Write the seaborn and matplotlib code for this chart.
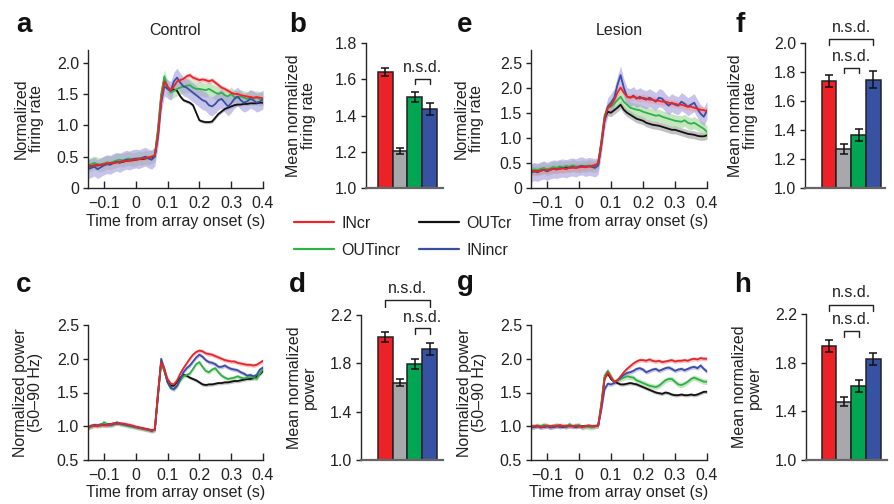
import numpy as np
import pandas as pd
import matplotlib
matplotlib.use("Agg")
import matplotlib.pyplot as plt
import seaborn as sns
from matplotlib.lines import Line2D

# ---------------- data ----------------
conditions = ["INcr", "OUTcr", "OUTincr", "INincr"]
time = np.round(np.linspace(-0.15, 0.40, 56), 2)

# panel a: control, firing rate
a_INcr = [0.34, 0.35, 0.36, 0.37, 0.37, 0.38, 0.39, 0.40, 0.40, 0.41, 0.42, 0.43, 0.43, 0.44, 0.45, 0.45, 0.46, 0.47, 0.48, 0.49, 0.50, 0.52,
          0.85, 1.40, 1.70, 1.62, 1.55, 1.62, 1.70, 1.72, 1.74, 1.78, 1.80, 1.76, 1.74, 1.72, 1.73, 1.72, 1.70, 1.72, 1.68, 1.64,
          1.60, 1.58, 1.55, 1.52, 1.50, 1.50, 1.48, 1.47, 1.46, 1.45, 1.44, 1.45, 1.44, 1.43]
a_OUTcr = [0.34, 0.35, 0.36, 0.36, 0.37, 0.38, 0.38, 0.39, 0.40, 0.41, 0.41, 0.42, 0.43, 0.44, 0.44, 0.45, 0.46, 0.46, 0.47, 0.48, 0.49, 0.51,
           0.90, 1.45, 1.74, 1.60, 1.56, 1.57, 1.55, 1.46, 1.40, 1.38, 1.36, 1.32, 1.20, 1.08, 1.06, 1.05, 1.05, 1.06, 1.12, 1.18,
           1.22, 1.26, 1.28, 1.30, 1.32, 1.33, 1.33, 1.34, 1.34, 1.35, 1.35, 1.35, 1.36, 1.36]
a_OUTincr = [0.36, 0.38, 0.40, 0.38, 0.37, 0.39, 0.41, 0.40, 0.42, 0.44, 0.45, 0.44, 0.46, 0.47, 0.45, 0.46, 0.48, 0.47, 0.49, 0.48, 0.50, 0.53,
             0.95, 1.50, 1.78, 1.60, 1.52, 1.55, 1.58, 1.60, 1.62, 1.63, 1.64, 1.60, 1.58, 1.58, 1.57, 1.56, 1.58, 1.55, 1.52, 1.50,
             1.52, 1.48, 1.46, 1.50, 1.45, 1.44, 1.46, 1.44, 1.42, 1.45, 1.43, 1.44, 1.42, 1.42]
a_INincr = [0.30, 0.32, 0.34, 0.30, 0.33, 0.36, 0.38, 0.37, 0.40, 0.42, 0.40, 0.43, 0.45, 0.44, 0.46, 0.47, 0.46, 0.48, 0.50, 0.47, 0.45, 0.50,
            0.80, 1.35, 1.62, 1.58, 1.55, 1.70, 1.76, 1.68, 1.62, 1.60, 1.56, 1.52, 1.48, 1.44, 1.40, 1.38, 1.32, 1.30, 1.34, 1.40,
            1.42, 1.36, 1.30, 1.35, 1.42, 1.46, 1.40, 1.36, 1.38, 1.42, 1.40, 1.36, 1.38, 1.41]
a_sem = [0.04, 0.025, 0.11, 0.15]

# panel e: lesion, firing rate
e_INcr = [0.33, 0.34, 0.33, 0.35, 0.36, 0.35, 0.37, 0.38, 0.37, 0.38, 0.39, 0.38, 0.40, 0.41, 0.40, 0.41, 0.42, 0.42, 0.43, 0.44, 0.45, 0.50,
          0.90, 1.40, 1.60, 1.65, 1.75, 1.90, 2.00, 1.90, 1.82, 1.80, 1.82, 1.80, 1.78, 1.80, 1.78, 1.76, 1.76, 1.74, 1.74, 1.72,
          1.72, 1.70, 1.68, 1.68, 1.66, 1.66, 1.64, 1.62, 1.62, 1.60, 1.58, 1.56, 1.55, 1.53]
e_OUTcr = [0.34, 0.35, 0.34, 0.36, 0.37, 0.36, 0.38, 0.38, 0.39, 0.39, 0.40, 0.40, 0.41, 0.41, 0.42, 0.42, 0.43, 0.43, 0.44, 0.44, 0.45, 0.48,
           0.90, 1.38, 1.52, 1.50, 1.55, 1.60, 1.66, 1.56, 1.50, 1.46, 1.42, 1.38, 1.36, 1.34, 1.30, 1.28, 1.26, 1.25, 1.24, 1.22,
           1.20, 1.18, 1.16, 1.16, 1.14, 1.12, 1.10, 1.08, 1.07, 1.06, 1.04, 1.03, 1.03, 1.05]
e_OUTincr = [0.35, 0.37, 0.36, 0.38, 0.40, 0.37, 0.39, 0.42, 0.40, 0.43, 0.41, 0.44, 0.42, 0.45, 0.43, 0.42, 0.44, 0.43, 0.45, 0.44, 0.43, 0.48,
             0.95, 1.45, 1.60, 1.62, 1.68, 1.75, 1.82, 1.72, 1.66, 1.60, 1.58, 1.56, 1.55, 1.52, 1.50, 1.48, 1.46, 1.44, 1.45, 1.42,
             1.40, 1.38, 1.36, 1.34, 1.33, 1.32, 1.35, 1.30, 1.28, 1.30, 1.26, 1.22, 1.18, 1.12]
e_INincr = [0.30, 0.33, 0.31, 0.34, 0.36, 0.33, 0.36, 0.38, 0.37, 0.39, 0.40, 0.38, 0.41, 0.42, 0.40, 0.43, 0.44, 0.41, 0.43, 0.42, 0.40, 0.45,
            0.85, 1.35, 1.62, 1.70, 1.80, 2.05, 2.25, 2.00, 1.82, 1.80, 1.84, 1.78, 1.82, 1.78, 1.76, 1.80, 1.76, 1.72, 1.80, 1.78,
            1.70, 1.64, 1.70, 1.66, 1.64, 1.72, 1.68, 1.62, 1.66, 1.70, 1.58, 1.48, 1.42, 1.55]
e_sem = [0.07, 0.08, 0.12, 0.18]

# panel c: control, gamma power
c_INcr = [0.98, 1.00, 1.01, 1.00, 1.02, 1.01, 1.02, 1.03, 1.04, 1.04, 1.04, 1.04, 1.03, 1.02, 1.01, 0.99, 0.98, 0.97, 0.96, 0.95, 0.94, 0.95,
          1.50, 1.95, 1.85, 1.70, 1.63, 1.62, 1.68, 1.78, 1.86, 1.93, 2.00, 2.06, 2.10, 2.12, 2.11, 2.08, 2.07, 2.06, 2.04, 2.02,
          2.00, 1.98, 1.97, 1.96, 1.96, 1.94, 1.93, 1.92, 1.91, 1.91, 1.90, 1.91, 1.94, 1.97]
c_OUTcr = [0.98, 1.00, 1.01, 1.01, 1.02, 1.02, 1.03, 1.03, 1.04, 1.04, 1.04, 1.03, 1.02, 1.01, 1.00, 0.99, 0.98, 0.97, 0.96, 0.95, 0.94, 0.95,
           1.48, 1.95, 1.82, 1.66, 1.60, 1.60, 1.66, 1.72, 1.76, 1.75, 1.72, 1.70, 1.68, 1.65, 1.62, 1.61, 1.62, 1.62, 1.63, 1.64,
           1.64, 1.65, 1.65, 1.66, 1.67, 1.67, 1.68, 1.69, 1.70, 1.70, 1.71, 1.73, 1.77, 1.82]
c_OUTincr = [0.97, 0.99, 1.01, 1.02, 1.00, 1.06, 1.03, 1.01, 1.02, 1.06, 1.03, 1.02, 1.01, 1.00, 0.99, 0.98, 0.97, 0.96, 0.95, 0.94, 0.93, 0.94,
             1.45, 1.95, 1.82, 1.65, 1.56, 1.55, 1.60, 1.68, 1.74, 1.76, 1.78, 1.85, 1.92, 1.95, 1.88, 1.82, 1.80, 1.84, 1.86, 1.80,
             1.75, 1.72, 1.70, 1.71, 1.72, 1.74, 1.72, 1.71, 1.72, 1.73, 1.72, 1.70, 1.78, 1.85]
c_INincr = [0.99, 1.01, 1.02, 1.01, 1.03, 1.02, 1.01, 1.02, 1.03, 1.05, 1.04, 1.03, 1.02, 1.01, 1.00, 0.99, 0.98, 0.97, 0.96, 0.95, 0.93, 0.95,
            1.45, 2.00, 1.85, 1.65, 1.57, 1.55, 1.60, 1.70, 1.80, 1.86, 1.90, 1.96, 2.02, 2.06, 2.03, 1.98, 1.95, 1.94, 1.92, 1.88,
            1.88, 1.90, 1.87, 1.85, 1.84, 1.83, 1.80, 1.78, 1.75, 1.76, 1.74, 1.76, 1.84, 1.87]
c_sem = [0.03, 0.025, 0.03, 0.03]

# panel g: lesion, gamma power
g_INcr = [1.00, 1.00, 1.01, 0.99, 1.00, 1.01, 1.00, 1.01, 1.00, 1.02, 1.00, 1.01, 1.00, 1.00, 1.01, 1.00, 0.99, 1.00, 1.01, 1.00, 1.00, 1.01,
          1.30, 1.70, 1.80, 1.72, 1.66, 1.68, 1.74, 1.80, 1.85, 1.89, 1.93, 1.96, 1.98, 1.98, 1.97, 1.99, 1.97, 1.96, 1.97, 1.95,
          1.96, 1.97, 1.98, 1.96, 1.97, 1.97, 1.98, 1.97, 1.99, 2.00, 1.99, 2.01, 2.00, 2.00]
g_OUTcr = [1.00, 0.99, 1.00, 1.00, 0.99, 1.00, 1.00, 0.99, 1.00, 1.00, 0.99, 1.00, 1.00, 1.00, 0.99, 1.00, 1.00, 1.00, 1.00, 0.99, 1.00, 1.01,
           1.32, 1.72, 1.78, 1.70, 1.66, 1.64, 1.62, 1.62, 1.63, 1.64, 1.63, 1.62, 1.60, 1.58, 1.56, 1.54, 1.52, 1.50, 1.49, 1.48,
           1.50, 1.49, 1.47, 1.46, 1.46, 1.47, 1.46, 1.46, 1.47, 1.46, 1.47, 1.49, 1.51, 1.51]
g_OUTincr = [0.99, 1.00, 1.01, 1.00, 1.02, 1.01, 0.99, 1.00, 1.02, 1.00, 1.01, 0.99, 1.03, 1.00, 1.01, 1.02, 0.98, 1.00, 0.99, 0.98, 1.00, 1.01,
             1.35, 1.75, 1.82, 1.74, 1.66, 1.68, 1.70, 1.72, 1.74, 1.73, 1.72, 1.68, 1.66, 1.64, 1.62, 1.60, 1.59, 1.58, 1.60, 1.64,
             1.68, 1.70, 1.70, 1.66, 1.62, 1.61, 1.63, 1.66, 1.70, 1.72, 1.70, 1.68, 1.66, 1.66]
g_INincr = [0.98, 0.99, 1.00, 0.98, 0.99, 1.00, 0.98, 0.99, 1.00, 0.99, 1.00, 0.99, 1.01, 1.00, 0.99, 1.00, 0.99, 1.00, 1.01, 1.00, 1.00, 1.01,
            1.25, 1.55, 1.63, 1.62, 1.64, 1.68, 1.72, 1.76, 1.79, 1.80, 1.82, 1.85, 1.86, 1.84, 1.80, 1.82, 1.84, 1.85, 1.82, 1.84,
            1.86, 1.87, 1.85, 1.82, 1.84, 1.85, 1.83, 1.85, 1.87, 1.88, 1.86, 1.90, 1.85, 1.81]
g_sem = [0.03, 0.025, 0.04, 0.03]

# bar panels (order: INcr, OUTcr, OUTincr, INincr)
b_mean = [1.64, 1.205, 1.50, 1.437]
b_err = [0.024, 0.018, 0.028, 0.033]
d_mean = [2.02, 1.64, 1.795, 1.915]
d_err = [0.042, 0.027, 0.038, 0.05]
f_mean = [1.738, 1.268, 1.365, 1.748]
f_err = [0.042, 0.034, 0.044, 0.06]
h_mean = [1.937, 1.479, 1.608, 1.83]
h_err = [0.05, 0.038, 0.05, 0.05]

x_ticks = [-0.1, 0.0, 0.1, 0.2, 0.3, 0.4]
x_ticklabels = ["\u22120.1", "0", "0.1", "0.2", "0.3", "0.4"]

# ---------------- style ----------------
sns.set_theme(style="ticks")
plt.rcParams['font.family'] = ['Liberation Sans', 'DejaVu Sans']
FS = 11.5
plt.rcParams['font.size'] = FS
plt.rcParams['axes.linewidth'] = 1.0
plt.rcParams['text.color'] = '#222222'
plt.rcParams['axes.labelcolor'] = '#222222'
plt.rcParams['xtick.color'] = '#222222'
plt.rcParams['ytick.color'] = '#222222'

LINE = {"INcr": "#e5262b", "OUTcr": "#111111", "OUTincr": "#2fb04a", "INincr": "#3a4fa3"}
BAND = {"INcr": "#f29a9c", "OUTcr": "#9a9a9a", "OUTincr": "#9ed896", "INincr": "#a49bdc"}
BARC = {"INcr": "#ec2227", "OUTcr": "#a6a8ab", "OUTincr": "#00a651", "INincr": "#3852a3"}

W, H = 894, 504
fig = plt.figure(figsize=(W / 100, H / 100), dpi=100)


def ax_px(l, r, t, b):
    return fig.add_axes([l / W, 1 - b / H, (r - l) / W, (b - t) / H])


def time_panel(ax, series, sems, ylim, yticks, yticklabels, ylabel, label_right_px, left_px, width_px, title=None):
    order = ["OUTcr", "OUTincr", "INincr", "INcr"]
    for name in order:
        v = np.array(series[name])
        s = sems[conditions.index(name)]
        ax.fill_between(time, v - s, v + s, color=BAND[name], alpha=0.6, lw=0)
    for name in order:
        df = pd.DataFrame({"t": time, "v": series[name]})
        sns.lineplot(data=df, x="t", y="v", color=LINE[name], lw=1.3, ax=ax)
    ax.set_xlim(-0.15, 0.40)
    ax.set_ylim(*ylim)
    ax.set_xticks(x_ticks)
    ax.set_xticklabels(x_ticklabels)
    ax.set_yticks(yticks)
    ax.set_yticklabels(yticklabels)
    ax.tick_params(axis='x', direction='in', length=5, width=1, pad=6, labelsize=FS)
    ax.tick_params(axis='y', direction='out', length=3.5, width=1, pad=3, labelsize=FS)
    sns.despine(ax=ax)
    ax.set_xlabel("Time from array onset (s)", fontsize=FS)
    ax.set_ylabel(ylabel, fontsize=FS, linespacing=1.0)
    ax.yaxis.set_label_coords((label_right_px - left_px) / width_px, 0.5)
    ax.xaxis.set_label_coords(0.5, -0.185)
    if title:
        ax.set_title(title, fontsize=FS, pad=11)


def bar_panel(ax, means, errs, ylim, yticks, ylabel, xlim, label_right_px, left_px, width_px, brackets):
    df = pd.DataFrame({"cond": conditions, "val": means})
    sns.barplot(data=df, x="cond", y="val", hue="cond", order=conditions, hue_order=conditions,
                palette=BARC, saturation=1.0, width=1.0, edgecolor="#222222", linewidth=1.1,
                ax=ax, legend=False)
    ax.errorbar(np.arange(len(conditions)), means, yerr=errs, fmt='none', ecolor='#111111',
                elinewidth=1.1, capsize=2.6, capthick=1.1, zorder=5)
    ax.set_ylim(*ylim)
    ax.set_xlim(*xlim)
    ax.set_yticks(yticks)
    ax.set_yticklabels([f"{v:.1f}" for v in yticks])
    ax.set_xticks([])
    ax.tick_params(axis='y', direction='out', length=3.5, width=1, pad=3, labelsize=FS)
    sns.despine(ax=ax)
    ax.spines['bottom'].set_color('#666666')
    ax.spines['bottom'].set_linewidth(1.6)
    ax.set_xlabel("")
    ax.set_ylabel(ylabel, fontsize=FS, linespacing=1.0)
    ax.yaxis.set_label_coords((label_right_px - left_px) / width_px, 0.5)
    for (x0, x1, y, tick, ty) in brackets:
        ax.plot([x0, x0, x1, x1], [y - tick, y, y, y - tick], color='#222222', lw=1.0, clip_on=False)
        ax.text((x0 + x1) / 2, ty, "n.s.d.", ha='center', va='center', fontsize=FS, clip_on=False)


def series_dict(p):
    return {"INcr": p[0], "OUTcr": p[1], "OUTincr": p[2], "INincr": p[3]}


# panel a
ax_a = ax_px(88, 263, 50, 188)
time_panel(ax_a, series_dict([a_INcr, a_OUTcr, a_OUTincr, a_INincr]), a_sem, (0, 2.2),
           [0, 0.5, 1.0, 1.5, 2.0], ["0", "0.5", "1.0", "1.5", "2.0"],
           "Normalized\nfiring rate", 44, 88, 175, title="Control")

# panel e
ax_e = ax_px(531, 707, 50, 188)
time_panel(ax_e, series_dict([e_INcr, e_OUTcr, e_OUTincr, e_INincr]), e_sem, (0, 2.75),
           [0, 0.5, 1.0, 1.5, 2.0, 2.5], ["0", "0.5", "1.0", "1.5", "2.0", "2.5"],
           "Normalized\nfiring rate", 484, 531, 176, title="Lesion")

# panel c
ax_c = ax_px(88, 263, 325, 460)
time_panel(ax_c, series_dict([c_INcr, c_OUTcr, c_OUTincr, c_INincr]), c_sem, (0.5, 2.5),
           [0.5, 1.0, 1.5, 2.0, 2.5], ["0.5", "1.0", "1.5", "2.0", "2.5"],
           "Normalized power\n(50\u201390 Hz)", 43, 88, 175)

# panel g
ax_g = ax_px(531, 707, 325, 460)
time_panel(ax_g, series_dict([g_INcr, g_OUTcr, g_OUTincr, g_INincr]), g_sem, (0.5, 2.5),
           [0.5, 1.0, 1.5, 2.0, 2.5], ["0.5", "1.0", "1.5", "2.0", "2.5"],
           "Normalized power\n(50\u201390 Hz)", 487, 531, 176)

# panel b
ax_b = ax_px(366, 443, 43, 188)
bar_panel(ax_b, b_mean, b_err, (1.0, 1.8), [1.0, 1.2, 1.4, 1.6, 1.8],
          "Mean normalized\nfiring rate", (-1.31, 3.91), 316, 366, 77,
          [(2, 3, 1.602, 0.027, 1.665)])

# panel f
ax_f = ax_px(805, 885, 43, 188)
bar_panel(ax_f, f_mean, f_err, (1.0, 2.0), [1.0, 1.2, 1.4, 1.6, 1.8, 2.0],
          "Mean normalized\nfiring rate", (-1.63, 3.79), 758, 805, 80,
          [(0, 3, 2.025, 0.04, 2.105), (1, 2, 1.826, 0.035, 1.905)])

# panel d
ax_d = ax_px(361, 443, 315, 460)
bar_panel(ax_d, d_mean, d_err, (1.0, 2.2), [1.0, 1.4, 1.8, 2.2],
          "Mean normalized\npower", (-1.65, 3.91), 317, 361, 82,
          [(0, 3, 2.32, 0.05, 2.42), (2, 3, 2.09, 0.05, 2.18)])

# panel h
ax_h = ax_px(806, 887, 314, 460)
bar_panel(ax_h, h_mean, h_err, (1.0, 2.2), [1.0, 1.4, 1.8, 2.2],
          "Mean normalized\npower", (-1.56, 3.93), 762, 806, 81,
          [(0, 3, 2.27, 0.045, 2.38), (1, 2, 2.06, 0.045, 2.156)])

# panel letters
for letter, x, y in [("a", 16, 32), ("b", 289, 32), ("e", 457, 32), ("f", 735, 32),
                     ("c", 16, 292), ("d", 289, 292), ("g", 457, 290), ("h", 734, 292)]:
    fig.text(x / W, 1 - y / H, letter, fontsize=20, fontweight='bold', ha='left', va='baseline', color='#111111')

# legend
handles = [Line2D([0], [0], color=LINE[n], lw=1.6) for n in ["INcr", "OUTincr", "OUTcr", "INincr"]]
labels = ["INcr", "OUTincr", "OUTcr", "INincr"]
fig.legend(handles, labels, ncol=2, loc='upper left', bbox_to_anchor=(294 / W, 1 - 216 / H),
           frameon=False, fontsize=FS, handlelength=2.5, handletextpad=0.45, columnspacing=1.2,
           labelspacing=0.75, borderpad=0, borderaxespad=0)

fig.savefig("out.png", dpi=100)
